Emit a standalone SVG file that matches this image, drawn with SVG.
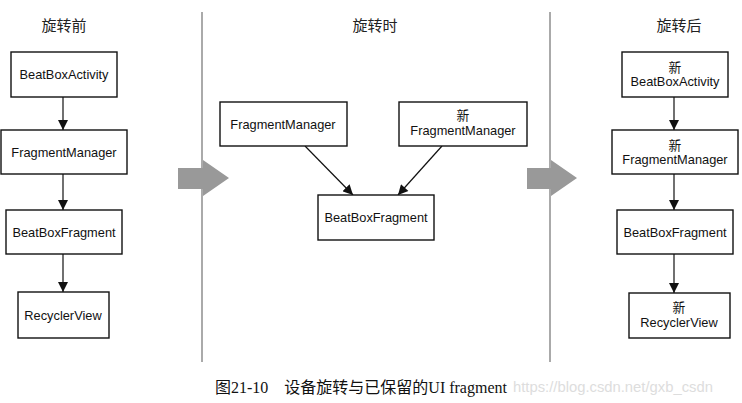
<svg xmlns="http://www.w3.org/2000/svg" width="742" height="403" viewBox="0 0 742 403">
<style>
.box{fill:#fff;stroke:#111;stroke-width:1.4}
.t{font-family:"Liberation Sans","Noto Sans CJK SC",sans-serif;font-size:12.8px;fill:#111;text-anchor:middle}
.h{font-family:"Liberation Serif","Noto Sans CJK SC",serif;font-size:15px;fill:#222;text-anchor:middle}
.c{stroke:#111;stroke-width:1.2;fill:none;marker-end:url(#ah)}
.div{stroke:#aaa;stroke-width:2}
.big{fill:#999}
</style>
<defs>
<marker id="ah" viewBox="0 0 10 10" refX="10" refY="5" markerWidth="11" markerHeight="10" markerUnits="userSpaceOnUse" orient="auto">
<path d="M0,0 L10,5 L0,10 z" fill="#111"/>
</marker>
</defs>
<rect width="742" height="403" fill="#fff"/>
<g id="dividers">
<line class="div" x1="202" y1="12" x2="202" y2="362"/>
<line class="div" x1="550" y1="12" x2="550" y2="362"/>
<path class="big" d="M178,168 H203 V160 L229,178 L203,196 V189 H178 z"/>
<path class="big" d="M527,168 H551 V160 L577,178 L551,196 V189 H527 z"/>
</g>
<g id="titles">
<text class="h" x="64" y="31">旋转前</text>
<text class="h" x="375" y="31">旋转时</text>
<text class="h" x="679" y="31">旋转后</text>
</g>
<g id="connectors">
<line class="c" x1="63" y1="97" x2="63" y2="130"/>
<line class="c" x1="63" y1="174" x2="63" y2="210"/>
<line class="c" x1="63" y1="254" x2="63" y2="292"/>
<line class="c" x1="305" y1="146" x2="353" y2="195"/>
<line class="c" x1="442" y1="146" x2="398" y2="195"/>
<line class="c" x1="674" y1="97" x2="674" y2="130"/>
<line class="c" x1="674" y1="174" x2="674" y2="210"/>
<line class="c" x1="674" y1="254" x2="674" y2="293"/>
</g>
<g id="l-activity"><rect class="box" x="11" y="52" width="106" height="45"/><text class="t" x="64" y="79">BeatBoxActivity</text></g>
<g id="l-fm"><rect class="box" x="1" y="130" width="126" height="44"/><text class="t" x="64" y="157">FragmentManager</text></g>
<g id="l-frag"><rect class="box" x="6" y="210" width="116" height="44"/><text class="t" x="64" y="237">BeatBoxFragment</text></g>
<g id="l-rv"><rect class="box" x="18" y="292" width="91" height="46"/><text class="t" x="63" y="320">RecyclerView</text></g>
<g id="m-fm"><rect class="box" x="220" y="102" width="127" height="44"/><text class="t" x="283" y="129">FragmentManager</text></g>
<g id="m-newfm"><rect class="box" x="399" y="102" width="128" height="44"/><text class="t" x="463" y="120">新</text><text class="t" x="463" y="135">FragmentManager</text></g>
<g id="m-frag"><rect class="box" x="318" y="195" width="116" height="45"/><text class="t" x="376" y="222">BeatBoxFragment</text></g>
<g id="r-activity"><rect class="box" x="622" y="52" width="106" height="45"/><text class="t" x="675" y="72">新</text><text class="t" x="675" y="86">BeatBoxActivity</text></g>
<g id="r-fm"><rect class="box" x="612" y="130" width="126" height="44"/><text class="t" x="675" y="150">新</text><text class="t" x="675" y="164">FragmentManager</text></g>
<g id="r-frag"><rect class="box" x="617" y="210" width="116" height="44"/><text class="t" x="675" y="237">BeatBoxFragment</text></g>
<g id="r-rv"><rect class="box" x="629" y="293" width="101" height="45"/><text class="t" x="679" y="312">新</text><text class="t" x="679" y="327">RecyclerView</text></g>
<g id="caption">
<text x="215" y="393" font-family="Liberation Serif,'Noto Sans CJK SC',serif" font-size="16" fill="#111">图21-10　设备旋转与已保留的UI fragment</text>
<text x="513" y="392" font-family="Liberation Sans,sans-serif" font-size="14.8" fill="#ddd">https://blog.csdn.net/gxb_csdn</text>
</g>
</svg>
